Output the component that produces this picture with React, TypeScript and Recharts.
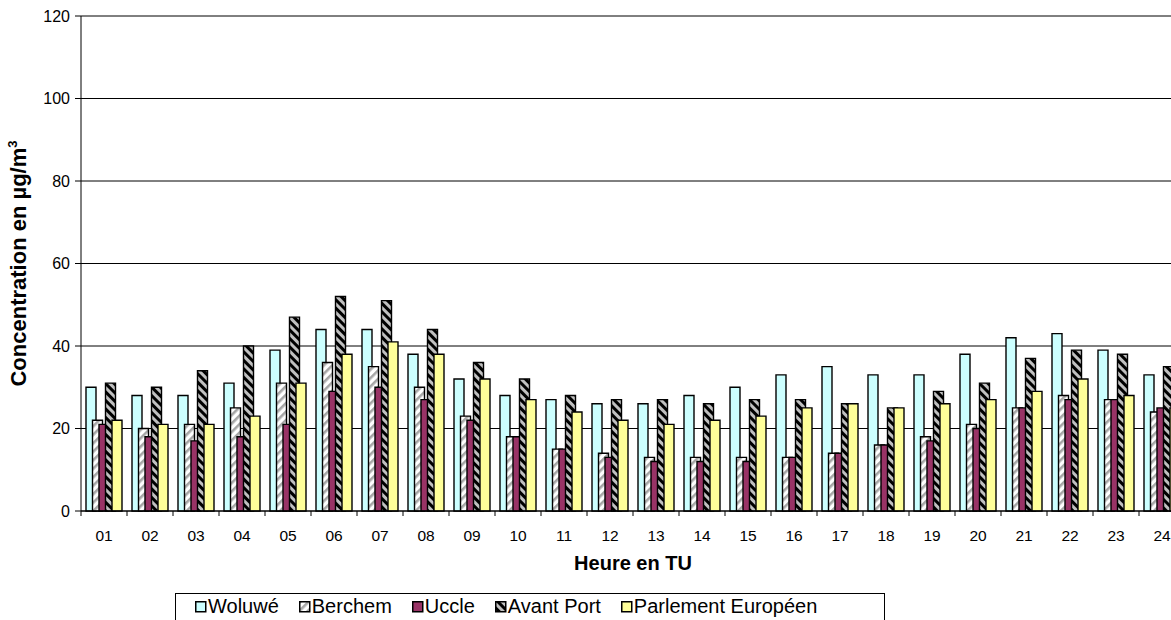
import React from 'react';
import { BarChart, Bar, XAxis, YAxis, CartesianGrid } from 'recharts';

const hours = ['01','02','03','04','05','06','07','08','09','10','11','12','13','14','15','16','17','18','19','20','21','22','23','24'];
const woluwe = [30,28,28,31,39,44,44,38,32,28,27,26,26,28,30,33,35,33,33,38,42,43,39,33];
const berchem = [22,20,21,25,31,36,35,30,23,18,15,14,13,13,13,13,14,16,18,21,25,28,27,24];
const uccle = [21,18,17,18,21,29,30,27,22,18,15,13,12,12,12,13,14,16,17,20,25,27,27,25];
const avantPort = [31,30,34,40,47,52,51,44,36,32,28,27,27,26,27,27,26,25,29,31,37,39,38,35];
const parlement = [22,21,21,23,31,38,41,38,32,27,24,22,21,22,23,25,26,25,26,27,29,32,28,25];
const yTicks = [0, 20, 40, 60, 80, 100, 120];

const seriesNames = ['Woluwé', 'Berchem', 'Uccle', 'Avant Port', 'Parlement Européen'];
const seriesKeys = ['woluwe', 'berchem', 'uccle', 'avantPort', 'parlement'];
const seriesFills = ['#ccffff', 'url(#patBerchem)', '#993366', 'url(#patAvant)', '#ffff99'];
const legendFills = ['#ccffff', 'url(#lgBerchem)', '#993366', 'url(#lgAvant)', '#ffff99'];

const data = hours.map((h, i) => ({
  hour: h,
  woluwe: woluwe[i],
  berchem: berchem[i],
  uccle: uccle[i],
  avantPort: avantPort[i],
  parlement: parlement[i],
}));

const FONT = '"Liberation Sans", Arial, Helvetica, sans-serif';
const W = 1200;
const H = 620;
const MARGIN = { top: 16, right: 15, left: 0, bottom: 49 };
const Y_W = 81;
const X_H = 60;
const BAND = (W - MARGIN.left - MARGIN.right - Y_W) / hours.length;

const XTick = (props: any) => {
  const { x, y, payload } = props;
  return (
    <g>
      <line x1={x - BAND / 2} x2={x - BAND / 2} y1={y - 5} y2={y} stroke="#000" strokeWidth={1} />
      <text x={x} y={y + 25} textAnchor="middle" fontSize={15.5} fill="#000" fontFamily={FONT}>
        {payload.value}
      </text>
    </g>
  );
};

const YLabel = (props: any) => {
  const vb = props.viewBox || { x: 0, y: 16, width: 81, height: 495 };
  const cx = vb.x + 26;
  const cy = vb.y + vb.height / 2;
  return (
    <text
      transform={`translate(${cx},${cy}) rotate(-90)`}
      textAnchor="middle"
      fontSize={22}
      fontWeight="bold"
      fill="#000"
      fontFamily={FONT}
    >
      Concentration en µg/m<tspan dy={-9} fontSize={13}>3</tspan>
    </text>
  );
};

const XLabel = (props: any) => {
  const vb = props.viewBox || { x: 81, y: 511, width: 1104, height: 60 };
  return (
    <text
      x={vb.x + vb.width / 2}
      y={vb.y + 59}
      textAnchor="middle"
      fontSize={20}
      fontWeight="bold"
      fill="#000"
      fontFamily={FONT}
    >
      Heure en TU
    </text>
  );
};

const PatternDefs = ({ prefix }: { prefix: string }) => (
  <defs>
    <pattern id={`${prefix}Berchem`} patternUnits="userSpaceOnUse" width={6} height={6} patternTransform="rotate(45)">
      <rect width={6} height={6} fill="#ffffff" />
      <rect x={0} y={0} width={2.6} height={6} fill="#a6a6a6" />
    </pattern>
    <pattern id={`${prefix}Avant`} patternUnits="userSpaceOnUse" width={6} height={6} patternTransform="rotate(-45)">
      <rect width={6} height={6} fill="#c0c0c0" />
      <rect x={0} y={0} width={3} height={6} fill="#000000" />
    </pattern>
  </defs>
);

const Legend = () => (
  <div
    style={{
      position: 'absolute',
      left: 175,
      top: 593,
      width: 710,
      height: 40,
      border: '1px solid #000',
      boxSizing: 'border-box',
      background: '#fff',
      display: 'flex',
      alignItems: 'flex-start',
      paddingLeft: 19,
      paddingTop: 1,
      gap: 20,
      fontFamily: FONT,
      fontSize: 20,
      color: '#000',
      whiteSpace: 'nowrap',
    }}
  >
    <svg width={0} height={0} style={{ position: 'absolute' }}>
      <PatternDefs prefix="lg" />
    </svg>
    {seriesNames.map((name, i) => (
      <div key={name} style={{ display: 'flex', alignItems: 'center', lineHeight: '23px' }}>
        <svg width={12} height={12} style={{ marginRight: 1 }}>
          <rect x={0.75} y={0.75} width={10} height={10} fill={legendFills[i]} stroke="#000" strokeWidth={1.5} />
        </svg>
        <span>{name}</span>
      </div>
    ))}
  </div>
);

export default function App() {
  return (
    <div style={{ position: 'absolute', left: 0, top: 0, width: 1171, height: 620, overflow: 'hidden', background: '#fff' }}>
      <BarChart
        width={W}
        height={H}
        data={data}
        margin={MARGIN}
        barSize={10}
        barGap={-3.5}
      >
        <PatternDefs prefix="pat" />
        <CartesianGrid vertical={false} stroke="#000" strokeWidth={1} />
        <XAxis
          dataKey="hour"
          height={X_H}
          axisLine={{ stroke: '#000' }}
          tickLine={false}
          tickSize={5}
          tickMargin={0}
          tick={<XTick />}
          interval={0}
          label={<XLabel />}
        />
        <YAxis
          width={Y_W}
          domain={[0, 120]}
          ticks={yTicks}
          interval={0}
          axisLine={{ stroke: '#000' }}
          tickLine={{ stroke: '#000' }}
          tickSize={6}
          tickMargin={5}
          tick={{ fontSize: 16, fill: '#000', fontFamily: FONT }}
          label={<YLabel />}
        />
        {seriesKeys.map((k, i) => (
          <Bar
            key={k}
            dataKey={k}
            name={seriesNames[i]}
            fill={seriesFills[i]}
            stroke="#000"
            strokeWidth={1.4}
            isAnimationActive={false}
          />
        ))}
      </BarChart>
      <Legend />
    </div>
  );
}
